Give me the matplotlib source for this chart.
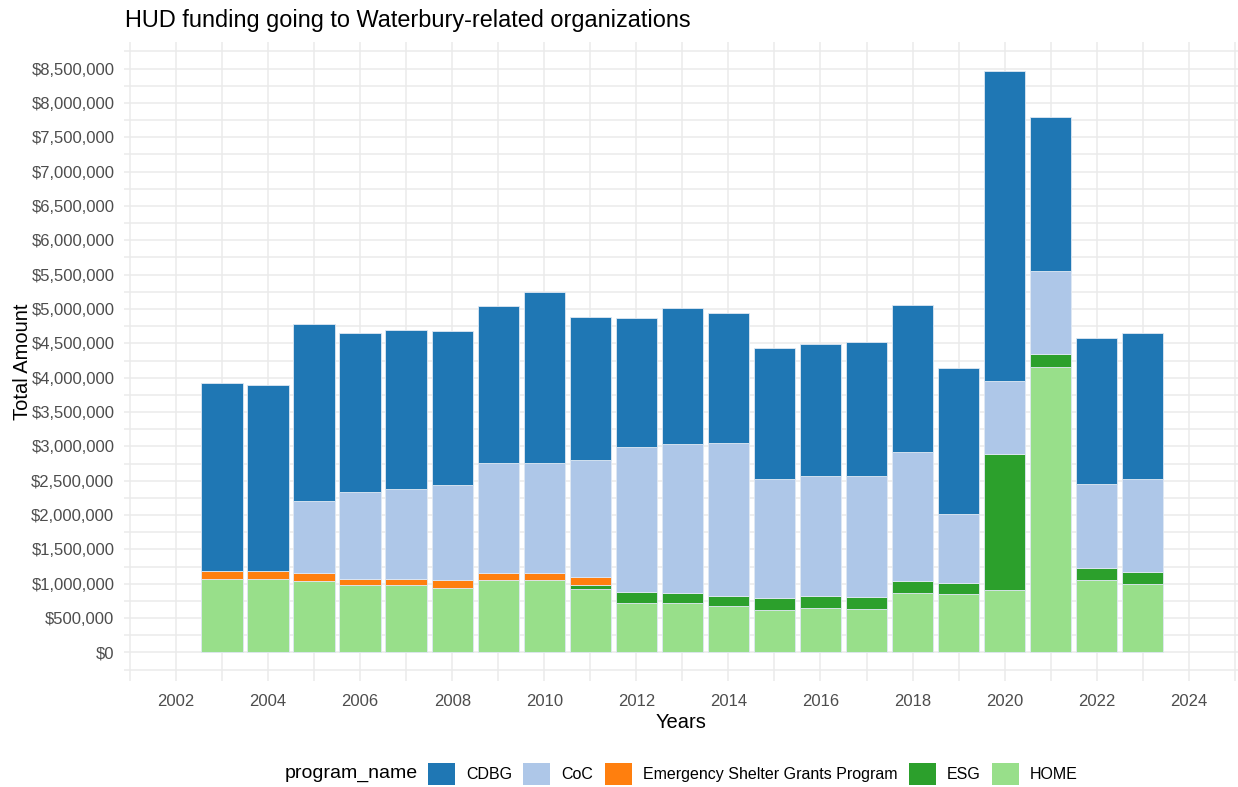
import numpy as np
import matplotlib.pyplot as plt
from matplotlib.patches import Patch
from matplotlib.ticker import FuncFormatter, MultipleLocator

plt.rcParams['font.family'] = ['Liberation Sans', 'DejaVu Sans']

# Valores (em dólares)
years = np.arange(2003, 2024)
programs = ['CDBG', 'CoC', 'Emergency Shelter Grants Program', 'ESG', 'HOME']
colors = ['#1f77b4', '#aec7e8', '#ff7f0e', '#2ca02c', '#98df8a']

home = [1.070, 1.070, 1.036, 0.978, 0.978, 0.944, 1.055, 1.055, 0.920, 0.716, 0.716,
        0.672, 0.619, 0.652, 0.633, 0.866, 0.847, 0.905, 4.156, 1.055, 0.997]
esg = [0, 0, 0, 0, 0, 0, 0, 0, 0.063, 0.165, 0.146,
       0.155, 0.170, 0.175, 0.175, 0.175, 0.169, 1.989, 0.193, 0.170, 0.170]
esgp = [0.116, 0.116, 0.117, 0.097, 0.097, 0.111, 0.098, 0.098, 0.116, 0, 0,
        0, 0, 0, 0, 0, 0, 0, 0, 0, 0]
coc = [0, 0, 1.052, 1.266, 1.300, 1.378, 1.605, 1.605, 1.698, 2.110, 2.168,
       2.218, 1.741, 1.738, 1.757, 1.873, 0.995, 1.054, 1.209, 1.228, 1.363]
cdbg = [2.741, 2.703, 2.572, 2.314, 2.319, 2.242, 2.281, 2.489, 2.087, 1.873, 1.989,
        1.897, 1.898, 1.921, 1.959, 2.144, 2.126, 4.516, 2.237, 2.120, 2.125]

fig = plt.figure(figsize=(12.38, 7.87), dpi=100)
ax = fig.add_axes([124 / 1238, 1 - 681 / 787, 1 - 124 / 1238, (681 - 42) / 787])

# Empilhando de baixo para cima
stack = [('HOME', home), ('ESG', esg), ('Emergency Shelter Grants Program', esgp),
         ('CoC', coc), ('CDBG', cdbg)]
bottom = np.zeros(len(years))
for name, vals in stack:
    v = np.array(vals) * 1e6
    c = colors[programs.index(name)]
    ax.bar(years, v, bottom=bottom, width=0.9, color=c,
           edgecolor='#dfe8f3', linewidth=0.6, zorder=3)
    bottom += v

# Grade e eixos
ax.set_xlim(2000.87, 2025.07)
ax.set_ylim(-0.415e6, 8.887e6)
ax.set_xticks(np.arange(2001, 2026), minor=True)
ax.set_xticks(np.arange(2002, 2025, 2))
ax.yaxis.set_minor_locator(MultipleLocator(250000))
ax.set_yticks(np.arange(0, 8.5e6 + 1, 500000))
ax.yaxis.set_major_formatter(FuncFormatter(lambda v, p: '${:,.0f}'.format(v)))
ax.grid(True, which='both', color='#ebebeb', linewidth=1.1, zorder=0)
ax.set_axisbelow(True)
for s in ax.spines.values():
    s.set_visible(False)
ax.tick_params(which='both', length=0)
ax.tick_params(axis='y', labelsize=12, labelcolor='#4d4d4d', pad=7)
ax.tick_params(axis='x', labelsize=12, labelcolor='#4d4d4d', pad=9)

ax.set_xlabel('Years', fontsize=14.5, labelpad=3)
fig.text(22 / 1238, 1 - 362 / 787, 'Total Amount', rotation=90, fontsize=14.5,
         ha='center', va='center')
fig.text(125 / 1238, 1 - 21 / 787, 'HUD funding going to Waterbury-related organizations',
         fontsize=16.9, ha='left', va='center')

# Legenda em baixo
fig.text(285 / 1238, 1 - 774 / 787, 'program_name', fontsize=14, ha='left', va='center')
handles = [Patch(facecolor=c, edgecolor='none') for c in colors]
fig.legend(handles, programs, loc='center left', bbox_to_anchor=(428 / 1238, 1 - 774 / 787),
           ncol=5, frameon=False, fontsize=11.5, handlelength=1.69, handleheight=1.69,
           handletextpad=0.7, columnspacing=0.7, borderpad=0, borderaxespad=0)

fig.savefig('out.png', dpi=100)
